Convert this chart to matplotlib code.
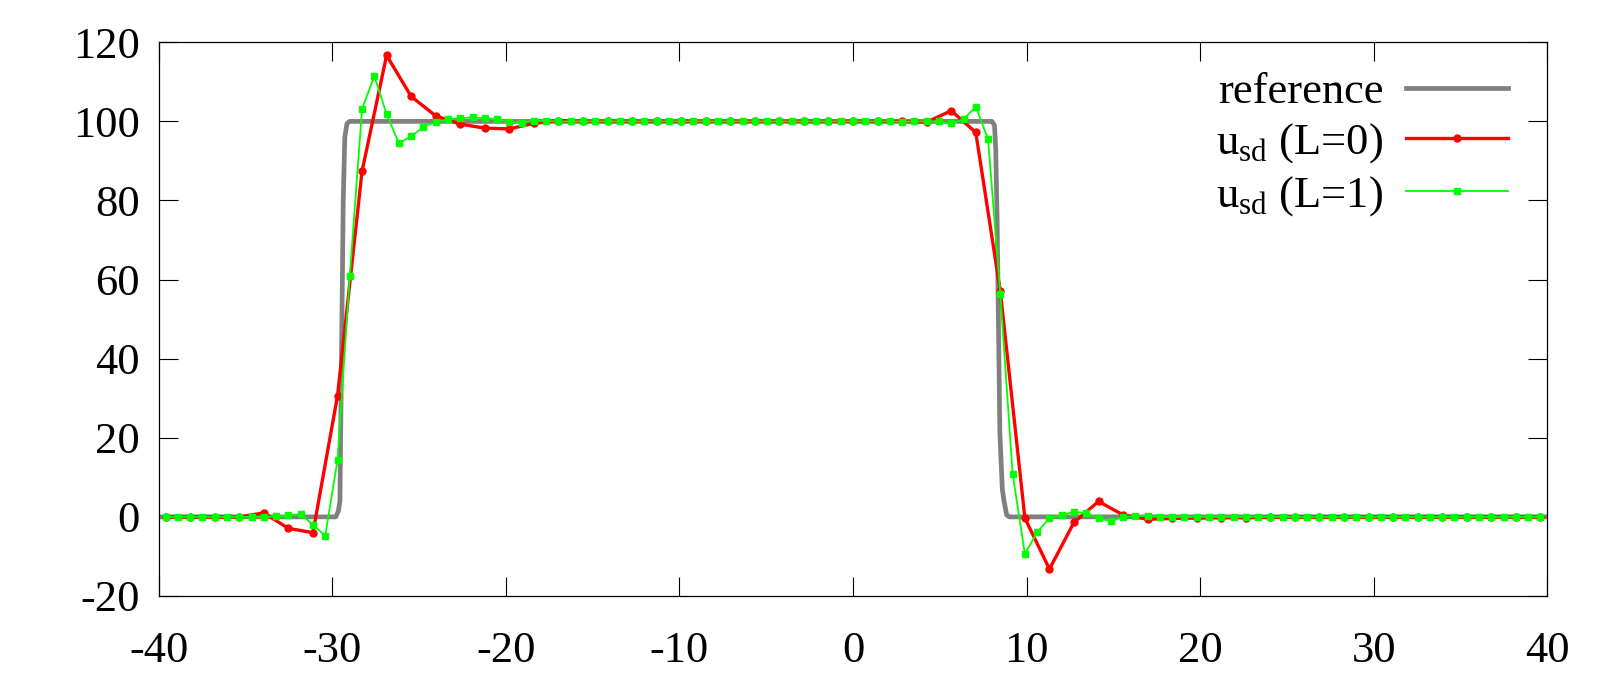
import numpy as np
import matplotlib
matplotlib.use("Agg")
import matplotlib.pyplot as plt

# reference solution (sharp step)
ref_x = [-40, -29.8, -29.65, -29.56, -29.47, -29.37, -29.28, -29.15, -29.0,
         8.0, 8.15, 8.22, 8.3, 8.46, 8.6, 8.7, 8.85, 9.0, 40]
ref_y = [0, 0, 1.5, 4, 40, 80, 96, 99.5, 100,
         100, 99, 93, 75, 21, 7, 4, 0.5, 0, 0]

# u_sd, L=0 (57 points)
x_l0 = np.linspace(-39.6, 39.6, 57)
u_l0 = [0, 0, 0, 0, 1.0, -2.9, -4.0, 30.6, 87.4, 116.7, 106.3, 101.4, 99.3,
        98.3, 98.1, 99.5, 100.2,
        100, 100, 100, 100, 100, 100, 100, 100, 100, 100, 100, 100, 100, 100,
        99.8, 102.7, 97.2, 57.0, -0.3, -13.2, -1.4, 3.9, 0.5, -0.6, -0.4,
        -0.3, -0.2, -0.2, -0.1,
        0, 0, 0, 0, 0, 0, 0, 0, 0, 0, 0]

# u_sd, L=1 (113 points)
x_l1 = np.linspace(-39.6, 39.6, 113)
u_l1 = [0, 0, 0, 0, 0, 0, 0, 0, 0, 0.1, 0.35, 0.7, -2.0, -4.8, 14.4, 60.9,
        103.1, 111.5, 101.8, 94.5, 96.2, 98.6, 99.9, 100.5, 100.8, 101.0,
        100.8, 100.5, 99.9, 99.7, 100.1, 100.1,
        100, 100, 100, 100, 100, 100, 100, 100, 100, 100, 100, 100, 100, 100,
        100, 100, 100, 100, 100, 100, 100, 100, 100, 100, 100, 100, 100, 100,
        99.9, 100, 100, 100, 99.5, 100.5, 103.7, 95.5, 56.3, 10.9, -9.4, -3.9,
        -0.3, 0.4, 1.3, 0.9, -0.3, -1.1, 0.0, 0.2, 0.2,
        0, 0, 0, 0, 0, 0, 0, 0, 0, 0, 0, 0, 0, 0, 0, 0,
        0, 0, 0, 0, 0, 0, 0, 0, 0, 0, 0, 0, 0, 0, 0, 0]

x_ticks = [-40, -30, -20, -10, 0, 10, 20, 30, 40]
y_ticks = [-20, 0, 20, 40, 60, 80, 100, 120]

plt.rcParams['font.family'] = ['Liberation Serif', 'DejaVu Serif']
plt.rcParams['mathtext.fontset'] = 'custom'
plt.rcParams['mathtext.rm'] = 'Liberation Serif'
plt.rcParams['axes.unicode_minus'] = False

fig = plt.figure(figsize=(16, 7), dpi=100)
ax = fig.add_axes([0.0992, 0.1486, 0.8679, 0.791])

ax.plot(ref_x, ref_y, color='#808080', lw=3.4, solid_joinstyle='round',
        label='reference', zorder=2)
ax.plot(x_l0, u_l0, color='#ff0000', lw=2.4, marker='o', ms=5,
        label=r'u$_\mathregular{sd}$ (L=0)', zorder=3)
ax.plot(x_l1, u_l1, color='#00ff00', lw=1.3, marker='s', ms=4.3,
        label=r'u$_\mathregular{sd}$ (L=1)', zorder=4)

ax.set_xlim(-40, 40)
ax.set_ylim(-20, 120)
ax.set_xticks(x_ticks)
ax.set_yticks(y_ticks)
ax.tick_params(direction='in', length=14, width=0.8, top=True, right=True,
               labelsize=32)
ax.tick_params(axis='x', pad=25)
ax.tick_params(axis='y', pad=13.5)
for s in ax.spines.values():
    s.set_linewidth(0.9)

leg = ax.legend(loc='upper right', bbox_to_anchor=(0.9715, 0.946),
                frameon=False, markerfirst=False, fontsize=32,
                handlelength=2.3, handletextpad=0.5, labelspacing=0.2,
                borderpad=0, borderaxespad=0)

fig.savefig('out.png', dpi=100)
